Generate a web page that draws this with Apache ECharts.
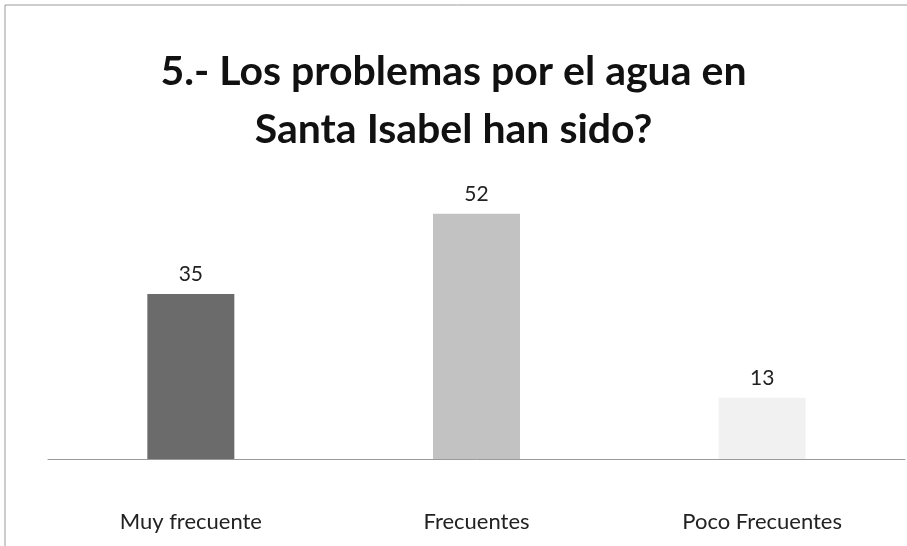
<!DOCTYPE html>
<html>
<head>
<meta charset="utf-8">
<script src="https://cdn.jsdelivr.net/npm/echarts@6/dist/echarts.min.js"></script>
<style>
  html, body { margin: 0; padding: 0; background: #fff; }
  #chart { width: 907px; height: 546px; }
</style>
</head>
<body>
<div id="chart"></div>
<script>
const categories = ['Muy frecuente', 'Frecuentes', 'Poco Frecuentes'];
const values = [35, 52, 13];
const barColors = ['#6b6b6b', '#c2c2c2', '#f1f1f1'];

const chart = echarts.init(document.getElementById('chart'), null, { renderer: 'canvas' });

chart.setOption({
  backgroundColor: '#fff',
  animation: false,
  title: {
    text: '5.- Los problemas por el agua en\nSanta Isabel han sido?',
    left: 'center',
    top: 38,
    textStyle: {
      fontFamily: 'Lato',
      fontWeight: 'bold',
      fontSize: 41,
      lineHeight: 58,
      color: '#111'
    }
  },
  graphic: [{
    type: 'rect',
    shape: { x: 5, y: 5, width: 910, height: 560 },
    style: { fill: 'none', stroke: '#9a9a9a', lineWidth: 1 },
    silent: true
  }],
  grid: { left: 48, right: 2, top: 176, bottom: 87 },
  xAxis: {
    type: 'category',
    data: categories,
    axisLine: { lineStyle: { color: '#9a9a9a', width: 1 } },
    axisTick: { show: false },
    axisLabel: {
      margin: 52,
      fontFamily: 'Lato',
      fontSize: 22,
      color: '#222'
    }
  },
  yAxis: {
    type: 'value',
    min: 0,
    max: 60,
    show: false,
    splitLine: { show: false }
  },
  series: [{
    type: 'bar',
    barWidth: 87,
    data: values.map((v, i) => ({ value: v, itemStyle: { color: barColors[i] } })),
    label: {
      show: true,
      position: 'top',
      distance: 9,
      fontFamily: 'Lato',
      fontSize: 21,
      color: '#222'
    }
  }]
});
</script>
</body>
</html>
